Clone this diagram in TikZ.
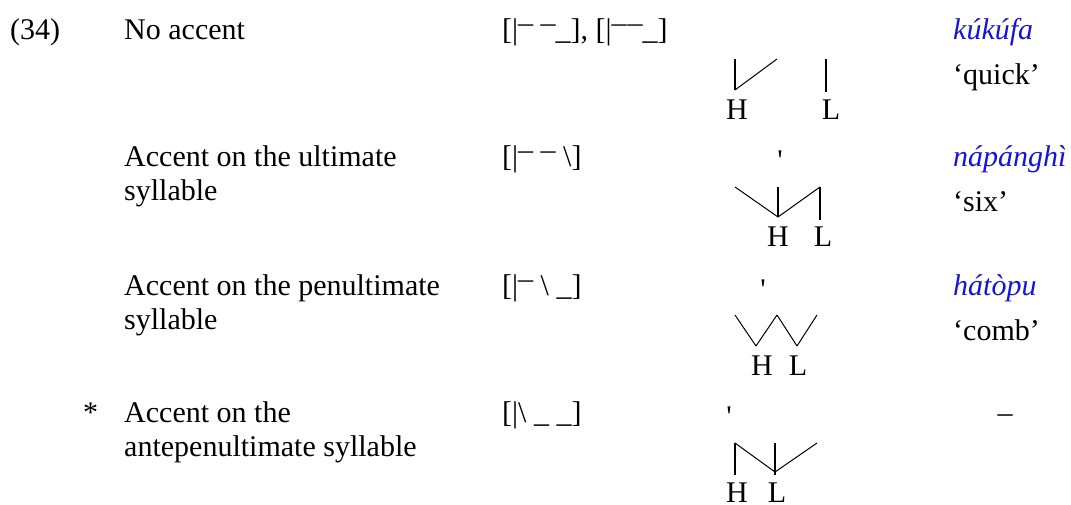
\documentclass[tikz,border=0pt]{standalone}
\usepackage{fontspec}
\setmainfont{Liberation Serif}[Ligatures=TeXOff]
\definecolor{glc}{RGB}{20,20,220}
\newcommand\hib{\raisebox{-8pt}{¯}}
\begin{document}
\begin{tikzpicture}[x=1pt,y=-1pt,
  txt/.style={anchor=base west,inner sep=0pt,font=\fontsize{30}{36}\selectfont},
  ctr/.style={anchor=base,inner sep=0pt,font=\fontsize{30}{36}\selectfont},
  gl/.style={anchor=base west,inner sep=0pt,text=glc,font=\fontsize{30}{36}\selectfont\itshape},
  vt/.style={line width=1.6pt},
  dg/.style={line width=1pt}]
\path[use as bounding box] (0,0) rectangle (1071,505);

% ---- Row 1
\node[txt] (num) at (10,40) {(34)};
\node[txt] (lab1) at (124,40) {No accent};
\node[txt] (br1) at (502,40) {[|\hib\ \hib\_], [|\hib\kern1pt\hib\_]};
\node[gl] (gl1) at (953,40) {kúkúfa};
\node[txt] (tr1) at (953,85) {‘quick’};
\node[ctr] (h1) at (737,120) {H};
\node[ctr] (l1) at (831,120) {L};
\coordinate (r1a) at (735,59);
\coordinate (r1b) at (777,59);
\coordinate (r1c) at (826,59);
\coordinate (r1h) at (735,90);
\coordinate (r1l) at (826,92);
\draw[vt] (r1a) -- (r1h);
\draw[dg] (r1h) -- (r1b);
\draw[vt] (r1c) -- (r1l);

% ---- Row 2
\node[txt] (lab2a) at (124,167) {Accent on the ultimate};
\node[txt] (lab2b) at (124,201) {syllable};
\node[txt] (br2) at (502,167) {[|\hib\ \hib\ \textbackslash]};
\node[gl] (gl2) at (953,167) {nápánghì};
\node[txt] (tr2) at (953,212) {‘six’};
\node[ctr] (ac2) at (780,171) {'};
\node[ctr] (h2) at (778,247) {H};
\node[ctr] (l2) at (823,247) {L};
\coordinate (r2a) at (735,187);
\coordinate (r2b) at (778,187);
\coordinate (r2c) at (820,187);
\coordinate (r2h) at (778,217);
\coordinate (r2l) at (820,220);
\draw[dg] (r2a) -- (r2h);
\draw[vt] (r2b) -- (r2h);
\draw[dg] (r2h) -- (r2c);
\draw[vt] (r2c) -- (r2l);

% ---- Row 3
\node[txt] (lab3a) at (124,295) {Accent on the penultimate};
\node[txt] (lab3b) at (124,329) {syllable};
\node[txt] (br3) at (502,295) {[|\hib\ \textbackslash{} \_]};
\node[gl] (gl3) at (953,295) {hátòpu};
\node[txt] (tr3) at (953,340) {‘comb’};
\node[ctr] (ac3) at (763,299) {'};
\node[ctr] (h3) at (762,375) {H};
\node[ctr] (l3) at (798,375) {L};
\coordinate (r3a) at (735,315);
\coordinate (r3b) at (777,315);
\coordinate (r3c) at (817,315);
\coordinate (r3h) at (756,346);
\coordinate (r3l) at (797,346);
\draw[dg] (r3a) -- (r3h);
\draw[dg] (r3h) -- (r3b);
\draw[dg] (r3b) -- (r3l);
\draw[dg] (r3l) -- (r3c);

% ---- Row 4
\node[txt] (star) at (83,422) {*};
\node[txt] (lab4a) at (124,422) {Accent on the};
\node[txt] (lab4b) at (124,456) {antepenultimate syllable};
\node[txt] (br4) at (502,422) {[|\textbackslash{} \_ \_]};
\node[ctr] (gl4) at (1005,422) {–};
\node[ctr] (ac4) at (729,426) {'};
\node[ctr] (h4) at (737,502) {H};
\node[ctr] (l4) at (777,502) {L};
\coordinate (r4a) at (735,443);
\coordinate (r4b) at (775,443);
\coordinate (r4c) at (817,443);
\coordinate (r4h) at (735,475);
\coordinate (r4l) at (775,472);
\coordinate (r4m) at (775,475);
\draw[vt] (r4a) -- (r4h);
\draw[dg] (r4a) -- (r4l);
\draw[vt] (r4b) -- (r4m);
\draw[dg] (r4l) -- (r4c);
\end{tikzpicture}
\end{document}
